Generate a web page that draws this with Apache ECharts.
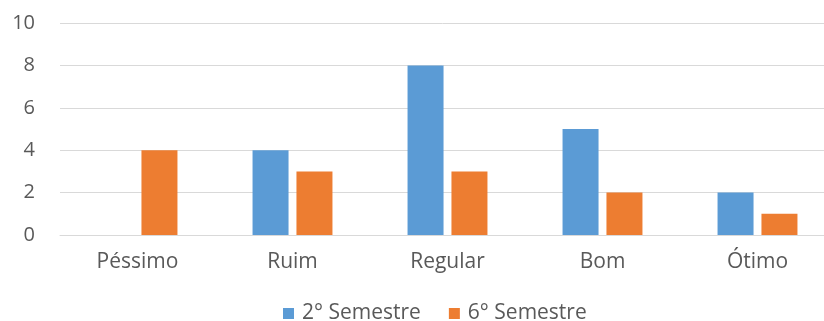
<!DOCTYPE html>
<html>
<head>
<meta charset="utf-8">
<script src="https://cdn.jsdelivr.net/npm/echarts@6/dist/echarts.min.js"></script>
<style>
  html, body { margin: 0; padding: 0; background: #ffffff; overflow: hidden; }
  #chart { width: 824px; height: 321px; }
</style>
</head>
<body>
<div id="chart"></div>
<script>
// Categories and values per semester
const categories = ['Péssimo', 'Ruim', 'Regular', 'Bom', 'Ótimo'];
const seriesNames = ['2° Semestre', '6° Semestre'];
const semestre2 = [0, 4, 8, 5, 2];
const semestre6 = [4, 3, 3, 2, 1];
const yTicks = { min: 0, max: 10, interval: 2 };

const font = '"Open Sans", "Noto Sans", sans-serif';
const textColor = '#595959';

const chart = echarts.init(document.getElementById('chart'), null, { renderer: 'canvas' });
chart.setOption({
  animation: false,
  backgroundColor: '#ffffff',
  color: ['#5b9bd5', '#ed7d31'],
  // the plot area runs slightly past the right edge of the canvas
  grid: { left: 60, width: 775, top: 23, height: 212, containLabel: false, outerBoundsMode: 'none' },
  legend: {
    top: 298,
    left: 278,
    itemWidth: 11,
    itemHeight: 11,
    itemGap: 28,
    icon: 'rect',
    textStyle: { fontFamily: font, fontSize: 21, color: textColor, padding: [0, 0, 0, 3] },
    data: seriesNames
  },
  xAxis: {
    type: 'category',
    data: categories,
    axisLine: { lineStyle: { color: '#d9d9d9', width: 1 } },
    axisTick: { show: false },
    axisLabel: { fontFamily: font, fontSize: 21, color: textColor, margin: 17 }
  },
  yAxis: {
    type: 'value',
    min: yTicks.min,
    max: yTicks.max,
    interval: yTicks.interval,
    axisLine: { show: false },
    axisTick: { show: false },
    axisLabel: { fontFamily: font, fontSize: 20, color: textColor, margin: 25 },
    splitLine: { lineStyle: { color: '#d9d9d9', width: 1 } }
  },
  series: [
    { name: seriesNames[0], type: 'bar', data: semestre2, barWidth: 36, barGap: '22%' },
    { name: seriesNames[1], type: 'bar', data: semestre6, barWidth: 36, barGap: '22%' }
  ]
});
</script>
</body>
</html>
